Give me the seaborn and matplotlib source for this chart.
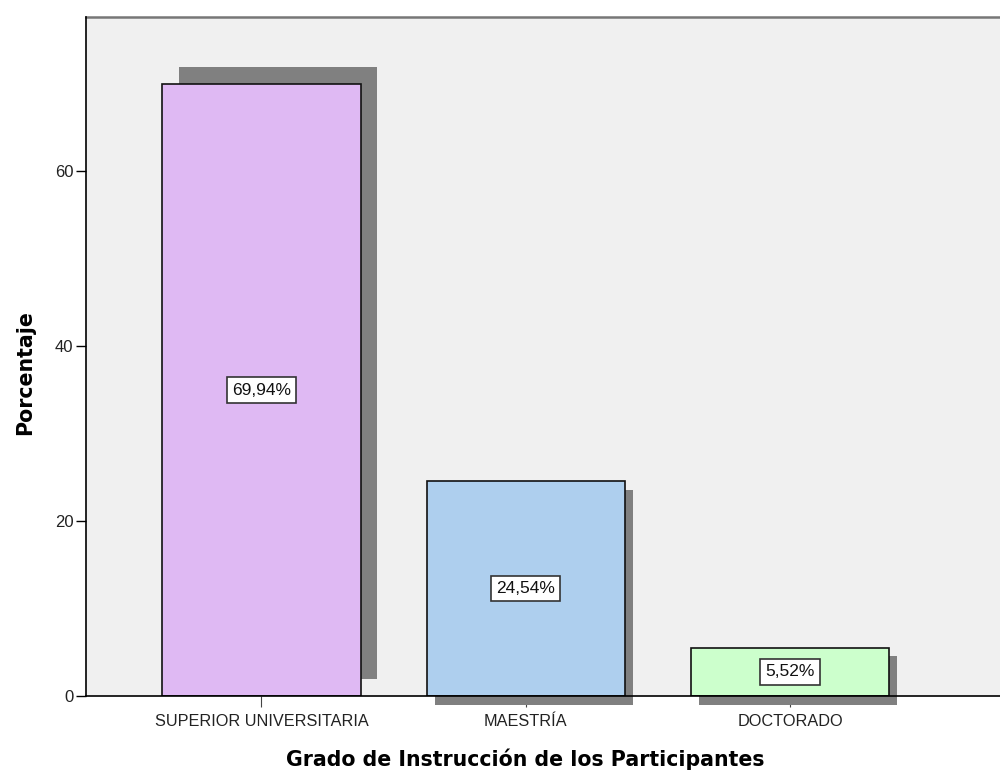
import matplotlib
matplotlib.use("Agg")
import matplotlib.pyplot as plt
import seaborn as sns
import pandas as pd

categories = ["SUPERIOR UNIVERSITARIA", "MAESTRÍA", "DOCTORADO"]
percentages = [69.94, 24.54, 5.52]
value_labels = ["69,94%", "24,54%", "5,52%"]
bar_colors = ["#DFB9F3", "#AECFEE", "#CCFFCC"]
y_ticks = [0, 20, 40, 60]

df = pd.DataFrame({"cat": categories, "pct": percentages})

sns.set_theme(style="white")
plt.rcParams["font.family"] = ["Liberation Sans", "DejaVu Sans"]

fig = plt.figure(figsize=(10, 7.72), dpi=100)
ax = fig.add_axes([0.086, 0.0984, 0.914, 0.8795])
ax.set_facecolor("#F0F0F0")

# shadows (pixel offsets converted to data units)
px_x = 1 / 264.5
px_y = 1 / 8.75
shadow_offsets = [(16.5, 17.0), (8.0, -8.5), (8.0, -8.5)]
for i, (h, (ox, oy)) in enumerate(zip(percentages, shadow_offsets)):
    ax.bar(i + ox * px_x, h, width=0.75, bottom=oy * px_y, color="#808080",
           edgecolor="none", zorder=1, clip_on=False)

sns.barplot(data=df, x="cat", y="pct", hue="cat", palette=bar_colors,
            order=categories, hue_order=categories, width=0.75, saturation=1,
            edgecolor="#111111", linewidth=1.2, legend=False, ax=ax, zorder=2)

for i, (h, lab) in enumerate(zip(percentages, value_labels)):
    ax.text(i, h / 2, lab, ha="center", va="center", fontsize=12.5, color="#111111",
            zorder=4,
            bbox=dict(boxstyle="square,pad=0.3", facecolor="white",
                      edgecolor="#333333", linewidth=1.2))

ax.set_xlim(-0.6635, 2.794)
ax.set_ylim(0, 77.6)
ax.set_yticks(y_ticks)
ax.set_yticklabels([str(t) for t in y_ticks], fontsize=12, color="#222222")
ax.tick_params(axis="y", direction="out", length=7, width=1, color="black", pad=2, left=True)
ax.tick_params(axis="x", direction="out", length=8, width=0.8, color="#444444", pad=5,
               labelsize=11.7, labelcolor="#222222", bottom=True)

ax.set_xlabel("Grado de Instrucción de los Participantes", fontsize=14.8,
              fontweight="bold", color="black", family="DejaVu Sans")
ax.set_ylabel("Porcentaje", fontsize=14.8, fontweight="bold", color="black",
              family="DejaVu Sans")
ax.xaxis.set_label_coords(0.481, -0.077)
ax.yaxis.set_label_coords(-0.056, 0.476)

for s in ["left", "bottom"]:
    ax.spines[s].set_color("black")
    ax.spines[s].set_linewidth(1.2)
    ax.spines[s].set_zorder(5)
ax.spines["top"].set_color("#777777")
ax.spines["top"].set_linewidth(1.8)
ax.spines["right"].set_visible(False)

fig.savefig("out.png", dpi=100, facecolor="white")
